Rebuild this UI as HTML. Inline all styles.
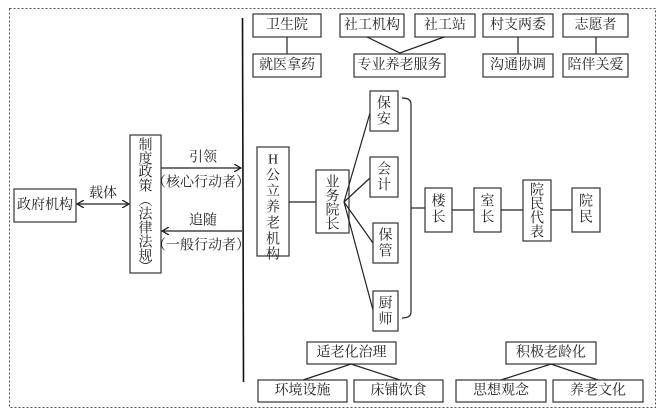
<!DOCTYPE html>
<html><head><meta charset="utf-8"><style>
body{margin:0;background:#fff}
svg{display:block}
text{font-family:"Liberation Serif","Noto Serif CJK SC",serif;font-size:14px;fill:#222;text-anchor:middle;dominant-baseline:central}
.b{fill:#fff;stroke:#333;stroke-width:1.2}
.l{stroke:#222;stroke-width:1.2;fill:none}
</style></head><body>
<svg width="664" height="416" viewBox="0 0 664 416">
<defs><marker id="a" markerWidth="8" markerHeight="8" refX="7" refY="4" orient="auto-start-reverse" markerUnits="userSpaceOnUse"><path d="M0,0 L7,4 L0,8" fill="none" stroke="#222" stroke-width="1.3"/></marker></defs>
<rect x="9.5" y="8.5" width="646" height="399" fill="none" stroke="#555" stroke-dasharray="2,2"/>
<line x1="242.5" y1="18" x2="243.5" y2="382" stroke="#111" stroke-width="1.6"/>
<!-- left -->
<rect class="b" x="14" y="189" width="62" height="33"/><text x="45" y="205.5">政府机构</text>
<line class="l" x1="77" y1="204" x2="129" y2="204" marker-start="url(#a)" marker-end="url(#a)"/>
<text x="103" y="194">载体</text>
<rect class="b" x="130" y="135" width="31" height="138"/>
<g font-size="13"><text x="145.5" y="146" font-size="13">制</text><text x="145.5" y="160" font-size="13">度</text><text x="145.5" y="173" font-size="13">政</text><text x="145.5" y="187" font-size="13">策</text><text x="145.5" y="202" font-size="13">︵</text><text x="145.5" y="215" font-size="13">法</text><text x="145.5" y="229" font-size="13">律</text><text x="145.5" y="243" font-size="13">法</text><text x="145.5" y="257" font-size="13">规</text><text x="145.5" y="268" font-size="13">︶</text></g>
<line class="l" x1="161" y1="168" x2="241" y2="168" marker-end="url(#a)"/>
<text x="203" y="158">引领</text><text x="201" y="183" font-size="13">（核心行动者）</text>
<line class="l" x1="242" y1="231" x2="162" y2="231" marker-end="url(#a)"/>
<text x="203" y="221">追随</text><text x="201" y="246" font-size="13">（一般行动者）</text>
<!-- top -->
<rect class="b" x="253" y="14" width="68" height="23"/><text x="287" y="25.5">卫生院</text>
<line class="l" x1="287" y1="37" x2="287" y2="54"/>
<rect class="b" x="253" y="54" width="68" height="23"/><text x="287" y="65.5">就医拿药</text>
<rect class="b" x="340" y="14" width="64" height="23"/><text x="372" y="25.5">社工机构</text>
<rect class="b" x="415" y="14" width="60" height="23"/><text x="445" y="25.5">社工站</text>
<polyline class="l" points="367,37 400,53 444,37"/>
<rect class="b" x="354" y="54" width="91" height="23"/><text x="399.5" y="65.5">专业养老服务</text>
<rect class="b" x="483" y="14" width="70" height="23"/><text x="518" y="25.5">村支两委</text>
<line class="l" x1="518" y1="37" x2="518" y2="54"/>
<rect class="b" x="483" y="54" width="70" height="23"/><text x="518" y="65.5">沟通协调</text>
<rect class="b" x="563" y="14" width="65" height="23"/><text x="595.5" y="25.5">志愿者</text>
<line class="l" x1="596" y1="37" x2="596" y2="54"/>
<rect class="b" x="563" y="54" width="65" height="23"/><text x="595.5" y="65.5">陪伴关爱</text>
<!-- middle -->
<rect class="b" x="257" y="147" width="32" height="109"/>
<text x="273" y="160" font-size="11">H</text><text x="273" y="176">公</text><text x="273" y="192">立</text><text x="273" y="208">养</text><text x="273" y="224">老</text><text x="273" y="240">机</text><text x="273" y="255" font-size="12">构</text>
<line class="l" x1="289" y1="202" x2="316" y2="202"/>
<rect class="b" x="316" y="170" width="33" height="63"/>
<text x="332.5" y="183">业</text><text x="332.5" y="197">务</text><text x="332.5" y="211">院</text><text x="332.5" y="225">长</text>
<line class="l" x1="344" y1="202" x2="370" y2="113"/>
<line class="l" x1="344" y1="202" x2="370" y2="178"/>
<line class="l" x1="344" y1="202" x2="373" y2="243"/>
<line class="l" x1="344" y1="202" x2="373" y2="310"/>
<rect class="b" x="370" y="91" width="28" height="40"/><text x="384" y="104">保</text><text x="384" y="120">安</text>
<rect class="b" x="370" y="157" width="28" height="40"/><text x="384" y="170">会</text><text x="384" y="186">计</text>
<rect class="b" x="373" y="223" width="25" height="40"/><text x="385.5" y="236">保</text><text x="385.5" y="252">管</text>
<rect class="b" x="373" y="291" width="25" height="40"/><text x="385.5" y="304">厨</text><text x="385.5" y="320">师</text>
<path class="l" d="M402,98 Q411,98 411,104 L411,312 Q411,318 402,318"/>
<line class="l" x1="411" y1="208" x2="425" y2="208"/>
<rect class="b" x="425" y="188" width="27" height="44"/><text x="438.5" y="202">楼</text><text x="438.5" y="218">长</text>
<line class="l" x1="452" y1="210" x2="474" y2="210"/>
<rect class="b" x="474" y="188" width="27" height="44"/><text x="487.5" y="202">室</text><text x="487.5" y="218">长</text>
<line class="l" x1="501" y1="210" x2="523" y2="210"/>
<rect class="b" x="523" y="180" width="28" height="61"/><text x="537" y="191">院</text><text x="537" y="205">民</text><text x="537" y="219">代</text><text x="537" y="233">表</text>
<line class="l" x1="551" y1="210" x2="572" y2="210"/>
<rect class="b" x="572" y="188" width="28" height="44"/><text x="586" y="202">院</text><text x="586" y="218">民</text>
<!-- bottom -->
<rect class="b" x="307" y="342" width="89" height="22"/><text x="351.5" y="353">适老化治理</text>
<polyline class="l" points="303,380 351,364 400,380"/>
<rect class="b" x="258" y="380" width="89" height="22"/><text x="302.5" y="391">环境设施</text>
<rect class="b" x="354" y="380" width="89" height="22"/><text x="398.5" y="391">床铺饮食</text>
<rect class="b" x="506" y="342" width="90" height="22"/><text x="551" y="353">积极老龄化</text>
<polyline class="l" points="501,380 551,364 598,380"/>
<rect class="b" x="456" y="380" width="90" height="22"/><text x="501" y="391">思想观念</text>
<rect class="b" x="553" y="380" width="90" height="22"/><text x="598" y="391">养老文化</text>
</svg>
</body></html>
